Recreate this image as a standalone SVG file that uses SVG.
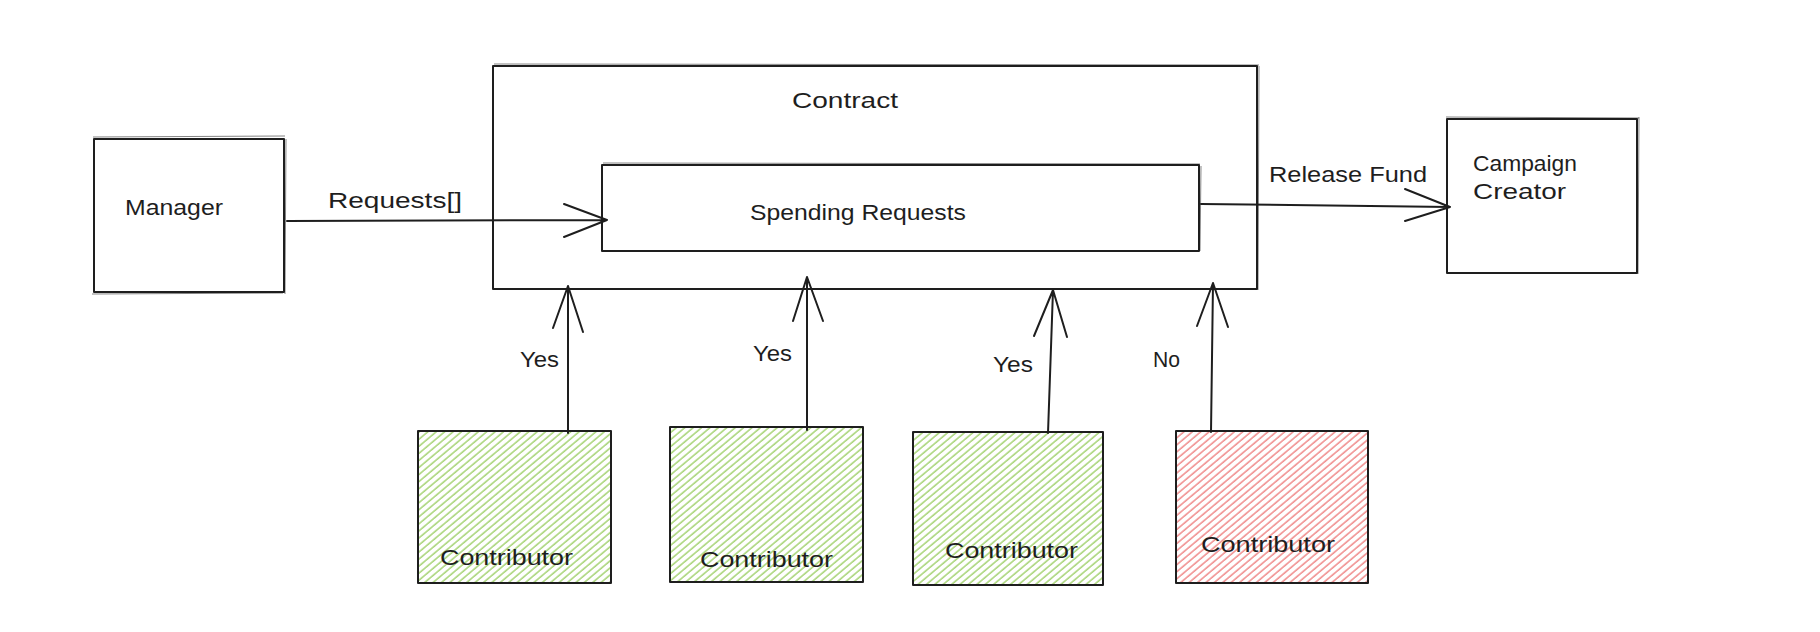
<svg xmlns="http://www.w3.org/2000/svg" width="1820" height="632" viewBox="0 0 1820 632">
<style>
.box{fill:none;stroke:#1e1e1e;stroke-width:2;stroke-linejoin:round}
.sk{fill:none;stroke:#1e1e1e;stroke-width:1;opacity:0.55}
.ln{fill:none;stroke:#1e1e1e;stroke-width:2;stroke-linecap:round;stroke-linejoin:round}
.t{font-family:"Liberation Sans",Arial,sans-serif;font-size:22px;fill:#1e1e1e}
</style>
<defs>
<pattern id="hg" patternUnits="userSpaceOnUse" width="20" height="5.4" patternTransform="rotate(-40)">
<line x1="0" y1="1" x2="20" y2="1" stroke="#9fd06a" stroke-width="1.4"/>
</pattern>
<pattern id="hr" patternUnits="userSpaceOnUse" width="20" height="5.4" patternTransform="rotate(-40)">
<line x1="0" y1="1" x2="20" y2="1" stroke="#ef8282" stroke-width="1.4"/>
</pattern>
</defs>
<rect width="1820" height="632" fill="#ffffff"/>

<g id="manager">
<rect class="box" x="94" y="139" width="190" height="153"/>
<path class="sk" d="M93 137 L285 136 M286 139 L285 294 M92 294 L283 293"/>
<text class="t" x="125" y="215" textLength="98" lengthAdjust="spacingAndGlyphs">Manager</text>
</g>

<g id="contract">
<rect class="box" x="493" y="66" width="764" height="223"/>
<path class="sk" d="M494 64 L1259 65 M1259 66 L1258 290"/>
<text class="t" x="792" y="108" textLength="106" lengthAdjust="spacingAndGlyphs">Contract</text>
</g>

<g id="spending-requests">
<rect class="box" x="602" y="165" width="597" height="86"/>
<path class="sk" d="M603 163 L1200 164 M1201 166 L1200 251"/>
<text class="t" x="750" y="220" textLength="216" lengthAdjust="spacingAndGlyphs">Spending Requests</text>
</g>

<g id="campaign-creator">
<rect class="box" x="1447" y="119" width="190" height="154"/>
<path class="sk" d="M1446 117 L1639 118 M1639 117 L1638 274"/>
<text class="t" x="1473" y="171" textLength="104" lengthAdjust="spacingAndGlyphs">Campaign</text>
<text class="t" x="1473" y="199" textLength="93" lengthAdjust="spacingAndGlyphs">Creator</text>
</g>

<g id="contributor-1">
<rect x="418" y="431" width="193" height="152" fill="url(#hg)"/>
<rect class="box" x="418" y="431" width="193" height="152"/>
<text class="t" x="440" y="565" textLength="133" lengthAdjust="spacingAndGlyphs">Contributor</text>
</g>

<g id="contributor-2">
<rect x="670" y="427" width="193" height="155" fill="url(#hg)"/>
<rect class="box" x="670" y="427" width="193" height="155"/>
<text class="t" x="700" y="567" textLength="133" lengthAdjust="spacingAndGlyphs">Contributor</text>
</g>

<g id="contributor-3">
<rect x="913" y="432" width="190" height="153" fill="url(#hg)"/>
<rect class="box" x="913" y="432" width="190" height="153"/>
<text class="t" x="945" y="558" textLength="133" lengthAdjust="spacingAndGlyphs">Contributor</text>
</g>

<g id="contributor-4">
<rect x="1176" y="431" width="192" height="152" fill="url(#hr)"/>
<rect class="box" x="1176" y="431" width="192" height="152"/>
<text class="t" x="1201" y="552" textLength="134" lengthAdjust="spacingAndGlyphs">Contributor</text>
</g>

<g id="connectors">
<path class="ln" d="M287 221 L607 220 M564 204 L607 220 L564 237"/>
<text class="t" x="328" y="208" textLength="134" lengthAdjust="spacingAndGlyphs">Requests[]</text>

<path class="ln" d="M1201 204 L1450 207 M1405 189 L1450 207 L1405 221"/>
<text class="t" x="1269" y="182" textLength="158" lengthAdjust="spacingAndGlyphs">Release Fund</text>

<path class="ln" d="M568 433 L568 286 M553 328 L568 286 L583 332"/>
<text class="t" x="520" y="367" textLength="39" lengthAdjust="spacingAndGlyphs">Yes</text>

<path class="ln" d="M807 430 L807 277 M793 321 L807 277 L823 321"/>
<text class="t" x="753" y="361" textLength="39" lengthAdjust="spacingAndGlyphs">Yes</text>

<path class="ln" d="M1048 433 L1053 290 M1034 336 L1053 290 L1067 337"/>
<text class="t" x="993" y="372" textLength="40" lengthAdjust="spacingAndGlyphs">Yes</text>

<path class="ln" d="M1211 432 L1213 283 M1197 326 L1213 283 L1228 327"/>
<text class="t" x="1153" y="367" textLength="27" lengthAdjust="spacingAndGlyphs">No</text>
</g>
</svg>
